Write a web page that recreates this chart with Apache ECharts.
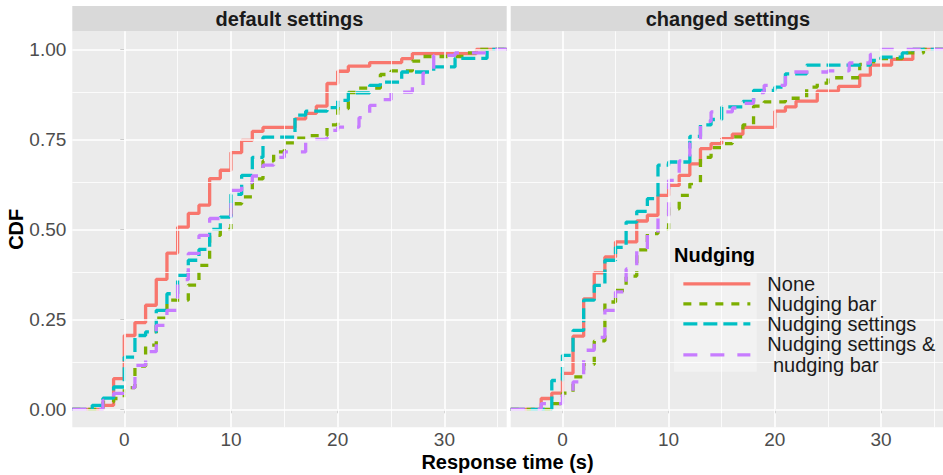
<!DOCTYPE html>
<html>
<head>
<meta charset="utf-8">
<script src="https://cdn.jsdelivr.net/npm/echarts@6/dist/echarts.min.js"></script>
<style>
html,body{margin:0;padding:0;background:#fff;}
#chart{width:943px;height:475px;}
</style>
</head>
<body>
<div id="chart"></div>
<script>
// ---- Data (ECDF jump points; times in s) ----
const panelTitles = ['default settings', 'changed settings'];
const seriesNames = ['None', 'Nudging bar', 'Nudging settings', 'Nudging settings &\n\u00A0nudging bar'];
const xTickValues = [0, 10, 20, 30];
const yTickValues = [0, 0.25, 0.5, 0.75, 1];

// default settings
const defNoneT = [-2,-1,0,1,2,3,4,5,6,7,8,9,10,11,12,13,16,17,18,19,20,21,23,26,27,33];
const defNoneF = [0.011,0.085,0.205,0.241,0.289,0.361,0.434,0.506,0.544,0.567,0.641,0.664,0.713,0.747,0.772,0.783,0.807,0.822,0.842,0.905,0.939,0.953,0.963,0.974,0.988,1.0];
const defBarT = [-2,-1,0,1,2,3,4,6,7,8,9,10,11,12,13,14,15,16,17,19,20,21,22,24,25,27,28,32,33];
const defBarF = [0.02,0.03,0.06,0.12,0.178,0.253,0.303,0.345,0.40,0.483,0.50,0.571,0.59,0.64,0.69,0.715,0.74,0.753,0.76,0.79,0.835,0.88,0.892,0.93,0.94,0.967,0.98,0.99,1.0];
const defSetT = [-3,-2,-1,0,1,2,3,4,5,6,7,8,9,10,11,12,13,16,17,19,20,21,23,24,26,29,31,34];
const defSetF = [0.011,0.031,0.062,0.145,0.205,0.215,0.275,0.321,0.372,0.414,0.444,0.50,0.534,0.597,0.65,0.70,0.756,0.817,0.828,0.838,0.858,0.879,0.90,0.909,0.937,0.951,0.975,1.0];
const defBothT = [-2,-1,0,1,2,3,4,5,6,7,8,10,11,12,13,14,15,17,19,20,22,23,24,25,27,28,29,31,34];
const defBothF = [0.025,0.044,0.06,0.122,0.16,0.233,0.275,0.36,0.433,0.483,0.53,0.608,0.63,0.648,0.678,0.70,0.715,0.75,0.775,0.784,0.81,0.844,0.86,0.881,0.90,0.934,0.983,0.99,1.0];

// changed settings
const chgNoneT = [-2,-1,0,1,2,3,4,5,7,8,9,10,11,12,13,14,15,16,17,20,21,22,24,26,28,29,31,33];
const chgNoneF = [0.03,0.045,0.10,0.203,0.307,0.379,0.423,0.465,0.523,0.539,0.594,0.622,0.65,0.682,0.724,0.738,0.752,0.764,0.783,0.828,0.84,0.856,0.884,0.897,0.928,0.956,0.972,1.0];
const chgBarT = [-1,0,1,2,3,4,5,6,7,8,9,10,11,12,13,14,15,16,17,18,19,21,23,24,25,28,29,30,32,34];
const chgBarF = [0.016,0.045,0.09,0.125,0.19,0.298,0.33,0.37,0.443,0.488,0.50,0.557,0.594,0.627,0.70,0.727,0.738,0.757,0.79,0.842,0.854,0.864,0.895,0.906,0.921,0.958,0.965,0.974,0.99,1.0];
const chgSetT = [-1,0,1,2,3,4,5,6,7,8,9,10,12,13,14,15,17,18,20,21,23,29,30,32,33];
const chgSetF = [0.08,0.15,0.219,0.303,0.344,0.414,0.45,0.52,0.55,0.585,0.678,0.687,0.758,0.79,0.805,0.84,0.855,0.886,0.895,0.932,0.956,0.969,0.978,0.99,1.0];
const chgBothT = [-2,0,1,2,3,4,5,6,7,8,9,10,11,12,13,14,16,17,18,19,21,25,27,29,30];
const chgBothF = [0.016,0.04,0.076,0.164,0.20,0.275,0.326,0.39,0.44,0.49,0.53,0.636,0.69,0.74,0.80,0.826,0.837,0.85,0.88,0.90,0.937,0.94,0.962,0.986,1.0];

// ---- Styling ----
const X_MIN = -4.87, X_MAX = 35.84, Y_MIN = -0.05, Y_MAX = 1.05;
const colors = ['#F8766D', '#7CAE00', '#00BFC4', '#C77CFF'];
const dashes = ['solid', [8, 8], [14, 6], [14, 13]];
const FONT = '"Liberation Sans", Arial, Helvetica, sans-serif';

const panels = [
  [[defNoneT, defNoneF], [defBarT, defBarF], [defSetT, defSetF], [defBothT, defBothF]],
  [[chgNoneT, chgNoneF], [chgBarT, chgBarF], [chgSetT, chgSetF], [chgBothT, chgBothF]]
];

function ecdfPoints(T, F) {
  const pts = [[X_MIN, 0]];
  T.forEach((t, i) => pts.push([t, F[i]]));
  pts.push([X_MAX, F[F.length - 1]]);
  return pts;
}

const gridLeft = [72.3, 510.7];
const GRID_TOP = 31.3, GRID_W = 434.4, GRID_H = 396;

const grids = [], xAxes = [], yAxes = [], series = [], graphics = [];

panels.forEach((panel, p) => {
  grids.push({left: gridLeft[p], top: GRID_TOP, width: GRID_W, height: GRID_H,
    show: true, backgroundColor: '#EBEBEB', borderWidth: 0, containLabel: false});
  xAxes.push({type: 'value', gridIndex: p, min: X_MIN, max: X_MAX,
    axisLine: {show: false},
    axisTick: {show: true, customValues: xTickValues, length: 4, lineStyle: {color: '#333333', width: 1}},
    axisLabel: {show: true, customValues: xTickValues, fontSize: 19, color: '#4D4D4D', margin: 3, fontFamily: FONT},
    splitLine: {show: false}, minorSplitLine: {show: false}});
  yAxes.push({type: 'value', gridIndex: p, min: Y_MIN, max: Y_MAX,
    axisLine: {show: false},
    axisTick: {show: p === 0, customValues: yTickValues, length: 4, lineStyle: {color: '#333333', width: 1}},
    axisLabel: {show: p === 0, customValues: yTickValues, fontSize: 19, color: '#4D4D4D', margin: 6, fontFamily: FONT,
      formatter: v => Number(v).toFixed(2)},
    splitLine: {show: false}});

  // gridlines via markLine (major + minor)
  const ml = [];
  [-5, 5, 15, 25, 35].forEach(v => { if (v > X_MIN && v < X_MAX) ml.push({xAxis: v, lineStyle: {color: '#FFFFFF', width: 0.8, type: 'solid'}}); });
  xTickValues.forEach(v => ml.push({xAxis: v, lineStyle: {color: '#FFFFFF', width: 1.6, type: 'solid'}}));
  [0.125, 0.375, 0.625, 0.875].forEach(v => ml.push({yAxis: v, lineStyle: {color: '#FFFFFF', width: 0.8, type: 'solid'}}));
  yTickValues.forEach(v => ml.push({yAxis: v, lineStyle: {color: '#FFFFFF', width: 1.6, type: 'solid'}}));
  series.push({type: 'line', name: '__grid' + p, xAxisIndex: p, yAxisIndex: p, data: [], z: 1,
    silent: true, animation: false,
    markLine: {silent: true, symbol: ['none', 'none'], label: {show: false}, animation: false,
      emphasis: {disabled: true}, data: ml}});

  panel.forEach(([T, F], k) => {
    series.push({type: 'line', name: seriesNames[k], xAxisIndex: p, yAxisIndex: p,
      data: ecdfPoints(T, F), step: 'end', symbol: 'none', showSymbol: false,
      z: 3, animation: false, silent: true, clip: true,
      lineStyle: {color: colors[k], width: 3.3, type: dashes[k], cap: 'butt'},
      itemStyle: {color: colors[k]}});
  });

  // strip
  graphics.push({type: 'rect', shape: {x: gridLeft[p], y: 6, width: GRID_W, height: GRID_TOP - 6},
    style: {fill: '#D9D9D9'}, z: 1, silent: true});
  graphics.push({type: 'text', x: gridLeft[p] + GRID_W / 2, y: 19, z: 2, silent: true,
    style: {text: panelTitles[p], font: 'bold 20px ' + FONT, fill: '#1A1A1A', textAlign: 'center', textVerticalAlign: 'middle'}});
});

// axis titles
graphics.push({type: 'text', x: 15.8, y: 229.3, rotation: Math.PI / 2, z: 2, silent: true,
  style: {text: 'CDF', font: 'bold 20px ' + FONT, fill: '#000000', textAlign: 'center', textVerticalAlign: 'middle'}});
graphics.push({type: 'text', x: 507.5, y: 462, z: 2, silent: true,
  style: {text: 'Response time (s)', font: 'bold 20px ' + FONT, fill: '#000000', textAlign: 'center', textVerticalAlign: 'middle'}});
// legend title and key background
graphics.push({type: 'text', x: 674, y: 254.5, z: 20, silent: true,
  style: {text: 'Nudging', font: 'bold 20px ' + FONT, fill: '#000000', textAlign: 'left', textVerticalAlign: 'middle'}});
graphics.push({type: 'rect', shape: {x: 674, y: 273.3, width: 82.7, height: 98.4}, z: 5, silent: true,
  style: {fill: '#F2F2F2'}});

const legendData = seriesNames.map((n, i) => i === seriesNames.length - 1
  ? {name: n, textStyle: {lineHeight: 21}} : {name: n});

const chart = echarts.init(document.getElementById('chart'), null, {renderer: 'svg'});
chart.setOption({
  backgroundColor: '#FFFFFF',
  animation: false,
  textStyle: {fontFamily: FONT},
  grid: grids,
  xAxis: xAxes,
  yAxis: yAxes,
  legend: {
    show: true, orient: 'vertical', left: 681.7, top: 273.8, z: 30, padding: 0,
    data: legendData, itemWidth: 67, itemHeight: 19, itemGap: 0,
    selectedMode: false,
    itemStyle: {opacity: 0},
    lineStyle: {width: 3.3},
    textStyle: {fontSize: 20, lineHeight: 19, color: '#1A1A1A', fontFamily: FONT, padding: [0, 0, 0, 12]}
  },
  graphic: {elements: graphics},
  series: series
});
</script>
</body>
</html>
